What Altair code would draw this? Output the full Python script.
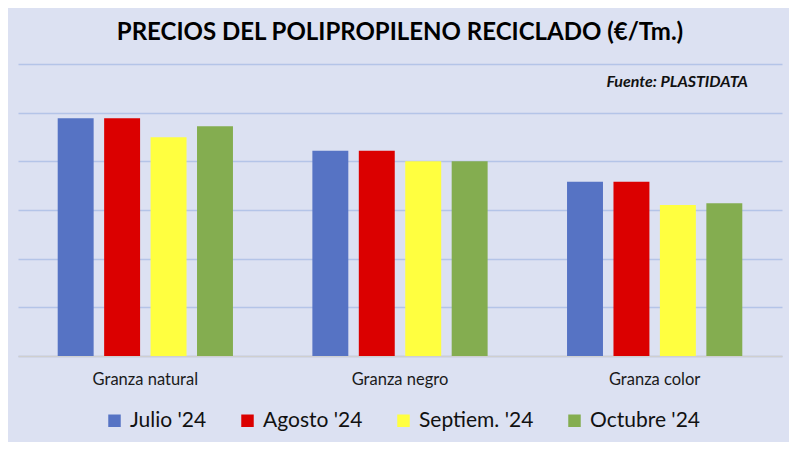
import altair as alt
import pandas as pd

# Values (gridlines assumed every 200 €/Tm, no axis labels shown)
categories = ["Granza natural", "Granza negro", "Granza color"]
months = ["Julio '24", "Agosto '24", "Septiem. '24", "Octubre '24"]
colors = ["#5673C4", "#DB0000", "#FFFF40", "#84AD50"]

julio = [977, 844, 716]
agosto = [977, 844, 716]
septiembre = [899, 800, 621]
octubre = [944, 800, 628]

series = [julio, agosto, septiembre, octubre]
rows = []
for month, values in zip(months, series):
    for cat, val in zip(categories, values):
        rows.append({"tipo": cat, "mes": month, "precio": val})
df = pd.DataFrame(rows)

FONT = "Lato"
BG = "#DCE1F2"

bars = alt.Chart(df).mark_bar().encode(
    x=alt.X(
        "tipo:N",
        sort=categories,
        title=None,
        scale=alt.Scale(paddingInner=0, paddingOuter=0),
        axis=alt.Axis(
            labelAngle=0,
            labelFontSize=16.5,
            labelColor="#1a1a1a",
            labelPadding=15,
            ticks=False,
            domainColor="#CFCFCF",
            domainWidth=1.5,
            grid=False,
        ),
    ),
    xOffset=alt.XOffset(
        "mes:N", sort=months, scale=alt.Scale(paddingInner=0.226, paddingOuter=0.855)
    ),
    y=alt.Y(
        "precio:Q",
        title=None,
        scale=alt.Scale(domain=[0, 1200]),
        axis=alt.Axis(
            values=[0, 200, 400, 600, 800, 1000, 1200],
            labels=False,
            ticks=False,
            domain=False,
            grid=True,
            gridColor="#B4C4E8",
            gridWidth=1.5,
        ),
    ),
    color=alt.Color(
        "mes:N",
        sort=months,
        scale=alt.Scale(domain=months, range=colors),
        legend=alt.Legend(
            title=None,
            orient="none",
            direction="horizontal",
            legendX=86,
            legendY=346,
            symbolType="square",
            symbolSize=156,
            symbolStrokeWidth=0,
            labelFontSize=21,
            labelColor="#111111",
            labelOffset=5,
            columnPadding=30,
        ),
    ),
)

source = alt.Chart(pd.DataFrame({"t": ["Fuente: PLASTIDATA"]})).mark_text(
    align="right",
    baseline="middle",
    fontSize=16,
    fontWeight="bold",
    fontStyle="italic",
    color="#111111",
).encode(x=alt.value(730), y=alt.value(18), text="t:N")

chart = (
    alt.layer(bars, source)
    .properties(
        width=764,
        height=292,
        padding={"left": 10, "top": 56, "right": 7, "bottom": 86},
        autosize=alt.AutoSizeParams(type="none"),
        background=BG,
        title=alt.Title(
            "PRECIOS DEL POLIPROPILENO RECICLADO (€/Tm.)",
            anchor="middle",
            fontSize=24,
            fontWeight="bold",
            color="#000000",
            baseline="alphabetic",
            offset=0,
        ),
    )
    .configure(font=FONT)
    .configure_view(stroke=None)
)

chart.save("out.html", embed_options={"renderer": "svg", "actions": False})
